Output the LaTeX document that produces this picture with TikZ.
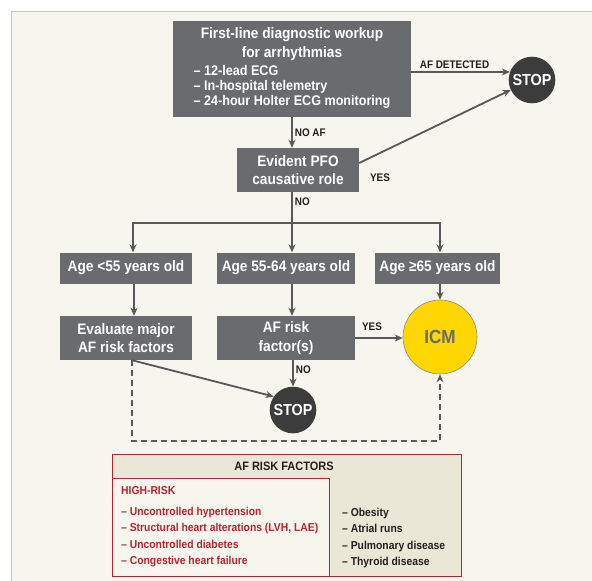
\documentclass[tikz,border=0pt]{standalone}
\usepackage{fontspec}
\setmainfont[FakeStretch=0.9]{Liberation Sans}
\usetikzlibrary{positioning,arrows.meta}
\definecolor{boxgray}{HTML}{6A6B6F}
\definecolor{stopgray}{HTML}{3C3C3C}
\definecolor{panel}{HTML}{F6F5EE}
\definecolor{beige}{HTML}{EBE7D6}
\definecolor{riskred}{HTML}{B3262E}
\definecolor{icmyellow}{HTML}{FFD700}
\definecolor{linegray}{HTML}{58585A}
\definecolor{ink}{HTML}{231F20}
\begin{document}
\begin{tikzpicture}[x=1pt,y=-1pt,
  >={Stealth[length=8pt,width=7pt,inset=2.5pt]},
  box/.style={fill=boxgray,text=white,font=\fontsize{15.2}{18.4}\selectfont\bfseries,align=center,inner sep=0pt},
  stopsign/.style={circle,fill=stopgray,text=white,font=\fontsize{16}{18}\selectfont\bfseries,minimum size=46.6pt,inner sep=0pt},
  flow/.style={->,linegray,line width=1.8pt},
  lbl/.style={font=\fontsize{11}{13}\selectfont\bfseries,text=ink,inner sep=2pt},
  riskbox/.style={draw=riskred,line width=1pt,inner sep=0pt}]
  \useasboundingbox (0,0) rectangle (592,581);
  \fill[panel] (11.5,11.5) rectangle (592,581);
  \draw[black!22,line width=1.5pt] (11.5,581) -- (11.5,11.5) -- (592,11.5);

  \node[box,minimum width=238pt,minimum height=96pt] (workup) at (292,69)
    {First-line diagnostic workup\\for arrhythmias\\[4pt]
     {\fontsize{14}{15}\selectfont\begin{tabular}{@{}l@{}}– 12-lead ECG\\– In-hospital telemetry\\– 24-hour Holter ECG monitoring\end{tabular}}};
  \node[stopsign] (stopA) at (532,80) {STOP};
  \node[box,minimum width=122pt,minimum height=44pt] (pfo) at (298,170) {Evident PFO\\causative role};

  \node[box,minimum width=132pt,minimum height=31pt] (ageA) at (126,268) {Age <55 years old};
  \node[box,minimum width=138pt,minimum height=31pt] (ageB) at (286,268) {Age 55-64 years old};
  \node[box,minimum width=125pt,minimum height=31pt] (ageC) at (437.5,268) {Age ≥65 years old};

  \node[box,minimum width=132pt,minimum height=44pt] (evalrf) at (126,338) {Evaluate major\\AF risk factors};
  \node[box,minimum width=138pt,minimum height=44pt] (afrisk) at (286,338) {AF risk\\factor(s)};
  \node[circle,fill=icmyellow,draw=black!45,line width=0.6pt,minimum size=74pt,inner sep=0pt,
        text=boxgray,font=\fontsize{19}{22}\selectfont\bfseries] (icm) at (440,337) {ICM};
  \node[stopsign] (stopB) at (293,410) {STOP};

  \draw[flow] (workup.east |- stopA.160) -- node[lbl,above,xshift=-6pt] {AF DETECTED} (stopA.160);
  \draw[flow] (workup.south) -- node[lbl,right] {NO AF} (workup.south |- pfo.north);
  \draw[flow] ([yshift=7pt]pfo.east) -- node[lbl,pos=0,anchor=west,xshift=8pt,yshift=-15pt] {YES} (stopA.205);
  \draw[linegray,line width=1.8pt] (workup.south |- pfo.south) -- node[lbl,right,pos=0.3] {NO} ++(0,31) coordinate (split);
  \draw[flow] (split) -| ([xshift=7pt]ageA.north);
  \draw[flow] (split) -- (split |- ageB.north);
  \draw[flow] (split) -| (ageC.north -| icm);

  \draw[flow] ([xshift=8pt]ageA.south) -- ([xshift=8pt]evalrf.north);
  \draw[flow] ([xshift=6pt]ageB.south) -- ([xshift=6pt]afrisk.north);
  \draw[flow] (ageC.south -| icm) -- (icm.north);
  \draw[flow] (afrisk.east) -- node[lbl,pos=0,anchor=south west,xshift=4pt,yshift=4pt] {YES} (afrisk.east -| icm.west);
  \draw[flow] (afrisk.south -| stopB) -- node[lbl,right,pos=0.35] {NO} (stopB.north);
  \draw[flow] ([xshift=6pt]evalrf.south) -- (stopB.145);
  \draw[flow,dash pattern=on 6pt off 4pt] ([xshift=6pt]evalrf.south) -- ++(0,81) -| (icm.south);

  \node[riskbox,fill=beige,minimum width=349pt,minimum height=122pt] (risk) at (286.5,515) {};
  \node[font=\fontsize{12.2}{15}\selectfont\bfseries,text=ink] (risktitle) at (284,466) {AF RISK FACTORS};
  \node[riskbox,fill=panel,anchor=south west,minimum width=217pt,minimum height=98pt] (highrisk) at (risk.south west) {};
  \node[anchor=north west,align=left,inner sep=0pt,text=riskred,font=\fontsize{11.5}{16.5}\selectfont\bfseries] (highlist) at (121,486.5)
    {HIGH-RISK\\[4pt]– Uncontrolled hypertension\\– Structural heart alterations (LVH, LAE)\\– Uncontrolled diabetes\\– Congestive heart failure};
  \node[anchor=west,align=left,inner sep=0pt,text=ink,font=\fontsize{11.5}{16.5}\selectfont\bfseries] (otherlist) at (342,538)
    {– Obesity\\– Atrial runs\\– Pulmonary disease\\– Thyroid disease};
\end{tikzpicture}
\end{document}
